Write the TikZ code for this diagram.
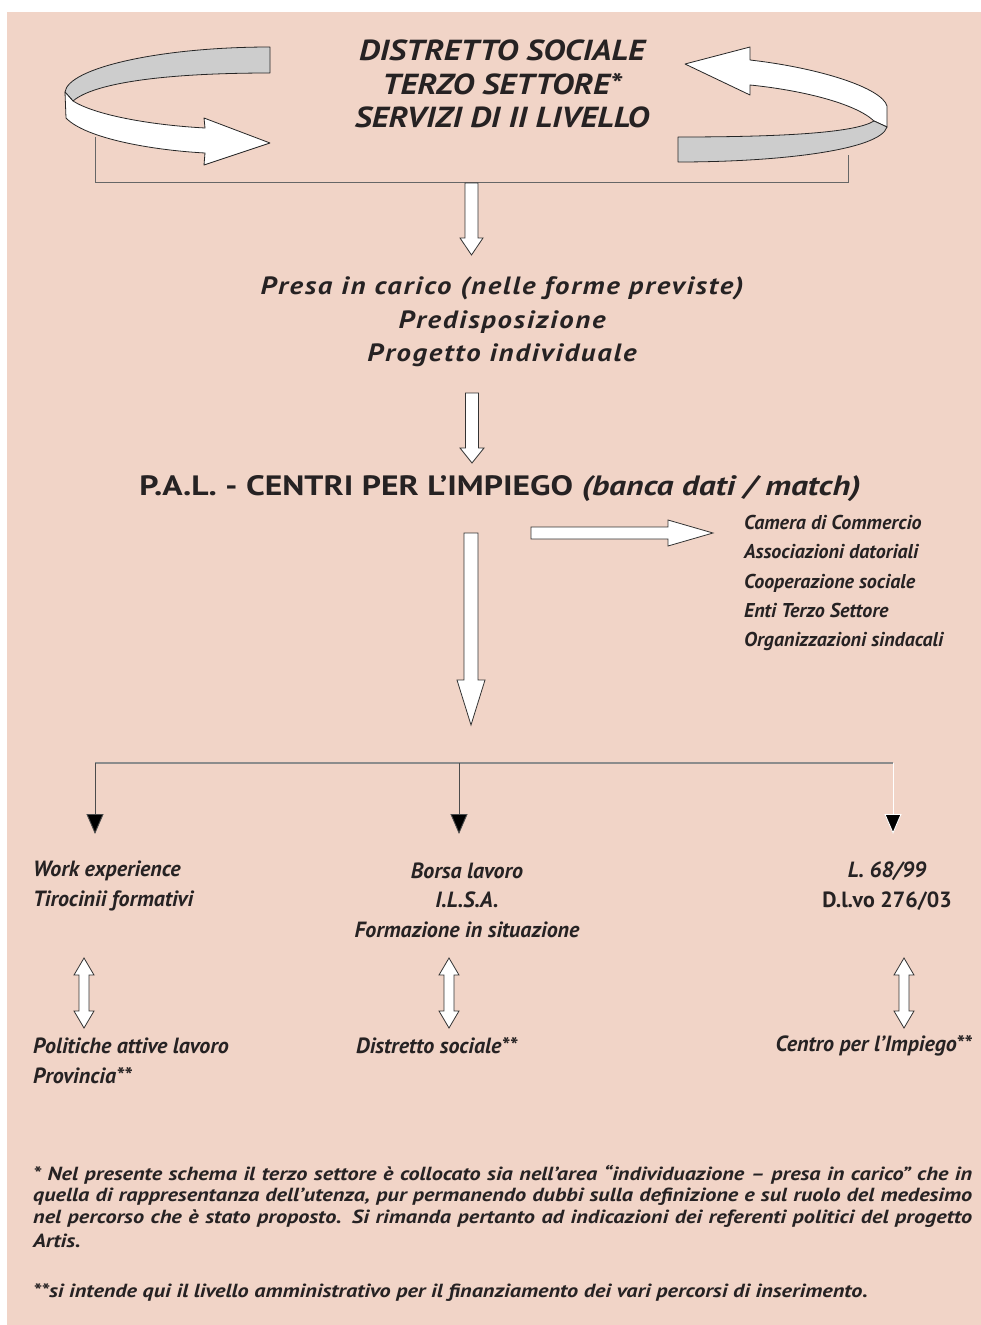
\documentclass[tikz,border=0pt]{standalone}
\usepackage{fontspec}
\setmainfont{PT Sans}
\newfontfamily\titlefont[FakeStretch=1.15]{PT Sans}
\newfontfamily\palfont[FakeStretch=1.2]{PT Sans}
\newfontfamily\presafont[FakeStretch=1.15,LetterSpace=7]{PT Sans}
\newfontfamily\fnfont[FakeStretch=1.17]{PT Sans}
\usetikzlibrary{arrows.meta}
\definecolor{bgpink}{RGB}{241,212,199}
\definecolor{ink}{RGB}{38,34,35}
\definecolor{ribgray}{RGB}{205,205,205}
\newcommand\fsz[2]{\fontsize{#1}{#2}\selectfont}
\tikzset{
  blockline/.style={draw=black!80, fill=white, line width=0.8pt, line join=miter},
  ribbon/.style={draw=black!85, line width=0.8pt, line join=round},
  pics/blockarrow/.style n args={4}{code={
    \draw[blockline] (0,-#2/2) -- ({#1-#4},-#2/2) -- ({#1-#4},-#3/2) -- (#1,0)
      -- ({#1-#4},#3/2) -- ({#1-#4},#2/2) -- (0,#2/2) -- cycle;}},
  pics/dblarrow/.style n args={4}{code={
    \draw[blockline] (0,0) -- (#4,-#3/2) -- (#4,-#2/2) -- ({#1-#4},-#2/2) -- ({#1-#4},-#3/2)
      -- (#1,0) -- ({#1-#4},#3/2) -- ({#1-#4},#2/2) -- (#4,#2/2) -- (#4,#3/2) -- cycle;}},
  txt/.style={text=ink, inner sep=0pt},
  titletext/.style={txt, font=\titlefont\fsz{29}{33.5}\itshape\bfseries, align=center},
  midtext/.style={txt, font=\presafont\fsz{25}{33.5}\itshape\bfseries, align=center},
  paltext/.style={txt, font=\palfont\fsz{28}{32}\bfseries},
  listtext/.style={txt, font=\fsz{20}{29.3}\itshape\bfseries, align=left},
  coltext/.style={txt, font=\fsz{22}{29.5}\itshape\bfseries, align=left},
  colctext/.style={txt, font=\fsz{22}{29.5}\itshape\bfseries, align=center},
  fntext/.style={txt, font=\fnfont\fsz{19}{22}\itshape\bfseries, anchor=west},
  bracket/.style={draw=black!60, line width=0.8pt},
  barline/.style={draw=black!45, line width=2.5pt},
  thinarrow/.style={draw=black!70, line width=0.9pt, -{Triangle[length=20pt,width=17pt,fill=black]}},
}
\begin{document}
\begin{tikzpicture}[x=1pt,y=-1pt]
\useasboundingbox (0,0) rectangle (981,1325);
\fill[white] (0,0) rectangle (981,1325);
\fill[bgpink] (7,12) rectangle (981,1325);

% ---- twisted ribbon arrows ----
\filldraw[ribbon, fill=ribgray] (270,47) .. controls (160,47) and (68,68) .. (65,92)
  -- (73,101) .. controls (95,82) and (170,73) .. (270,73) -- cycle;
\filldraw[ribbon, fill=white] (65,92) -- (66,118) .. controls (85,138) and (150,150) .. (205,153)
  -- (204,165) -- (270,143) -- (204,118) -- (205,128)
  .. controls (150,125) and (95,115) .. (73,101) -- cycle;
\filldraw[ribbon, fill=white] (750,60) .. controls (820,68) and (882,88) .. (887,106)
  -- (887,127) -- (874,121) .. controls (855,103) and (800,90) .. (750,85)
  -- (750,95) -- (685,64) -- (750,47) -- cycle;
\filldraw[ribbon, fill=ribgray] (874,121) -- (887,127) .. controls (880,150) and (780,162) .. (678,162)
  -- (678,137) .. controls (780,137) and (855,133) .. (874,121) -- cycle;

% ---- bracket ----
\coordinate (brL) at (95,137);
\coordinate (brLb) at (95,182);
\coordinate (brRb) at (848,182);
\coordinate (brR) at (848,155);
\draw[bracket] (brL) -- (brLb) -- (brRb) -- (brR);

% ---- texts ----
\node[titletext] (title) at (502,84) {DISTRETTO SOCIALE\\TERZO SETTORE*\\SERVIZI DI II LIVELLO};
\node[midtext] (presa) at (502,322) {Presa in carico (nelle forme previste)\\Predisposizione\\Progetto individuale};
\node[paltext] (pal) at (500,489) {P.A.L. - CENTRI PER L’IMPIEGO \textit{(banca dati / match)}};
\node[listtext, anchor=west] (list) at (744,583) {Camera di Commercio\\Associazioni datoriali\\Cooperazione sociale\\Enti Terzo Settore\\Organizzazioni sindacali};

% ---- block arrows ----
\coordinate (a1) at (471.5,183);
\pic[rotate=-90] at (a1) {blockarrow={72}{13}{23}{17}};
\coordinate (a2) at (472,393);
\pic[rotate=-90] at (a2) {blockarrow={70}{13}{24}{15}};
\coordinate (a3) at (531,533);
\pic at (a3) {blockarrow={182}{12}{26}{45}};
\coordinate (a4) at (471,533);
\pic[rotate=-90] at (a4) {blockarrow={192}{14}{28}{45}};

% ---- distribution bar ----
\coordinate (barL) at (95,763);
\coordinate (barM) at (459,763);
\coordinate (barR) at (893,763);
\coordinate (endL) at (95,834);
\coordinate (endM) at (459,834);
\coordinate (endR) at (893,834);
\draw[barline] (barL) -- (barR);
\draw[thinarrow] (barL) -- (endL);
\draw[thinarrow] (barM) -- (endM);
\draw[thinarrow, draw=white] (barR) -- (endR);

% ---- columns ----
\node[coltext, anchor=west] (c1) at (33,886) {Work experience\\Tirocinii formativi};
\node[colctext] (c2) at (467,900) {Borsa lavoro\\I.L.S.A.\\Formazione in situazione};
\node[colctext] (c3) at (887,886) {L. 68/99\\\upshape\bfseries D.l.vo 276/03};

\coordinate (d1) at (84,958);
\pic[rotate=-90] at (d1) {dblarrow={70}{10}{20}{17}};
\coordinate (d2) at (449,958);
\pic[rotate=-90] at (d2) {dblarrow={70}{10}{20}{17}};
\coordinate (d3) at (904,958);
\pic[rotate=-90] at (d3) {dblarrow={70}{10}{20}{17}};

\node[coltext, anchor=west] (b1) at (33,1061) {Politiche attive lavoro\\Provincia**};
\node[coltext, anchor=west] (b2) at (356,1046) {Distretto sociale**};
\node[coltext, anchor=east] (b3) at (972,1046) {Centro per l’Impiego**};

% ---- footnotes ----
\node[fntext] (f1) at (33,1175) {\makebox[939pt][s]{* Nel presente schema il terzo settore è collocato sia nell’area “individuazione – presa in carico” che in}};
\node[fntext] (f2) at (33,1197) {\makebox[939pt][s]{quella di rappresentanza dell’utenza, pur permanendo dubbi sulla definizione e sul ruolo del medesimo}};
\node[fntext] (f3) at (33,1219) {\makebox[939pt][s]{nel percorso che è stato proposto. Si rimanda pertanto ad indicazioni dei referenti politici del progetto}};
\node[fntext] (f4) at (33,1241) {Artis.};
\node[fntext] (f5) at (33,1293) {**si intende qui il livello amministrativo per il finanziamento dei vari percorsi di inserimento.};
\end{tikzpicture}
\end{document}
